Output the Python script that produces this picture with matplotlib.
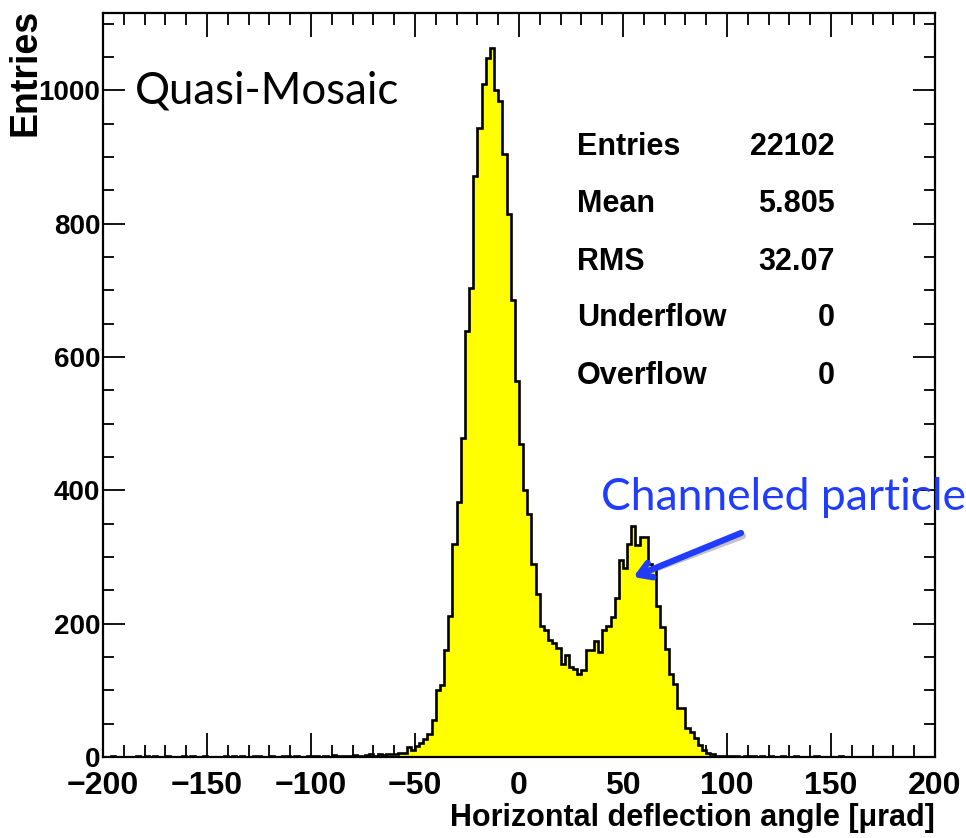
import numpy as np
import matplotlib
matplotlib.use("Agg")
import matplotlib.pyplot as plt
from matplotlib.ticker import MultipleLocator

plt.rcParams['font.family'] = ['Liberation Sans', 'DejaVu Sans']

# Histogram: 200 bins of 2 urad between -200 and 200
x_min, x_max, n_bins = -200, 200, 200
counts = [
    0, 0, 1, 0, 0, 0, 0, 0, 1, 0,            # -200 .. -182
    1, 0, 2, 0, 0, 1, 0, 0, 0, 1,            # -180 .. -162
    0, 1, 0, 0, 1, 0, 0, 0, 0, 1,            # -160 .. -142
    0, 2, 0, 1, 0, 0, 1, 1, 0, 0,            # -140 .. -122
    1, 0, 0, 2, 1, 0, 1, 0, 0, 1,            # -120 .. -102
    1, 1, 0, 2, 0, 3, 1, 2, 1, 2,            # -100 .. -82
    3, 2, 1, 3, 4, 2, 4, 3, 5, 4,            # -80 .. -62
    5, 6, 6, 15, 11, 16, 21, 27, 35, 55,     # -60 .. -42
    100, 108, 161, 211, 320, 383, 478, 639, 704, 871,     # -40 .. -22
    944, 1010, 1048, 1063, 1000, 984, 904, 815, 686, 564, # -20 .. -2
    469, 401, 365, 290, 245, 196, 190, 175, 171, 164,     # 0 .. 18
    140, 153, 135, 132, 125, 130, 160, 160, 174, 157,     # 20 .. 38
    191, 196, 210, 238, 296, 283, 320, 347, 318, 330,     # 40 .. 58
    330, 290, 285, 227, 195, 162, 125, 110, 74, 73,       # 60 .. 78
    43, 38, 28, 18, 11, 6, 4, 2, 1, 1,       # 80 .. 98
    2, 1, 1, 0, 1, 2, 1, 0, 1, 0,            # 100 .. 118
    1, 0, 0, 1, 0, 0, 1, 0, 0, 0,            # 120 .. 138
    0, 1, 0, 0, 0, 0, 0, 1, 0, 0,            # 140 .. 158
    0, 0, 0, 0, 0, 0, 0, 0, 0, 0,            # 160 .. 178
    0, 0, 0, 0, 0, 0, 0, 0, 0, 0,            # 180 .. 198
]

stat_names = ["Entries", "Mean", "RMS", "Underflow", "Overflow"]
stat_values = ["22102", "5.805", "32.07", "0", "0"]

title_text = "Quasi-Mosaic"
note_text = "Channeled particle"
note_target_x, note_target_y = 55, 270

W, H = 966, 838
fig = plt.figure(figsize=(W / 100, H / 100), dpi=100)
ax = fig.add_axes([103 / W, 1 - 757 / H, (935 - 103) / W, (757 - 13) / H])

edges = np.linspace(x_min, x_max, n_bins + 1)
vals = np.asarray(counts, dtype=float)
ax.stairs(vals, edges, fill=True, color='#ffff00', zorder=2)
ax.stairs(vals, edges, color='black', lw=1.9, zorder=3)

ax.set_xlim(x_min, x_max)
ax.set_ylim(0, 1.05 * vals.max())

ax.xaxis.set_major_locator(MultipleLocator(50))
ax.xaxis.set_minor_locator(MultipleLocator(10))
ax.yaxis.set_major_locator(MultipleLocator(200))
ax.yaxis.set_minor_locator(MultipleLocator(50))
ax.tick_params(which='both', direction='in', top=True, right=True, width=1.3, colors='black')
ax.tick_params(axis='x', which='major', length=17, pad=10, labelsize=23)
ax.tick_params(axis='x', which='minor', length=8.5)
ax.tick_params(axis='y', which='major', length=16, pad=2, labelsize=20)
ax.tick_params(axis='y', which='minor', length=8)
for lab in ax.get_xticklabels() + ax.get_yticklabels():
    lab.set_fontweight('bold')
for sp in ax.spines.values():
    sp.set_linewidth(1.6)

fig.text(935 / W, 1 - 803 / H, "Horizontal deflection angle [\u03bcrad]",
         ha='right', va='top', fontsize=22, fontweight='bold')
fig.text(25 / W, 1 - 9 / H, "Entries", rotation=90, ha='center', va='top',
         fontsize=27, fontweight='bold')

# Statistics box contents
row_y = [147, 204, 262, 318, 376]
for name, val, yy in zip(stat_names, stat_values, row_y):
    fig.text(577 / W, 1 - yy / H, name, ha='left', va='center',
             fontsize=22, fontweight='bold')
    fig.text(835 / W, 1 - yy / H, val, ha='right', va='center',
             fontsize=22, fontweight='bold')

fig.text(135 / W, 1 - 91 / H, title_text, ha='left', va='center',
         fontsize=31.5, family=['Lato', 'DejaVu Sans'], color='black')
fig.text(601 / W, 1 - 498 / H, note_text, ha='left', va='center',
         fontsize=32, family=['Lato', 'DejaVu Sans'], color='#1f3cff')

# Arrow with a soft shadow
arrow_start = (741 / W, 1 - 533 / H)
for dx, dy, col, alp in [(2, -3, '#555555', 0.35), (0, 0, '#1f3cff', 1.0)]:
    ax.annotate("", xy=(note_target_x, note_target_y), xycoords='data',
                xytext=(arrow_start[0] + dx / W, arrow_start[1] + dy / H),
                textcoords='figure fraction',
                arrowprops=dict(arrowstyle='->,head_length=0.9,head_width=0.55',
                                color=col, lw=4.5, alpha=alp,
                                shrinkA=0, shrinkB=0),
                zorder=5)

fig.savefig("out.png", dpi=100)
